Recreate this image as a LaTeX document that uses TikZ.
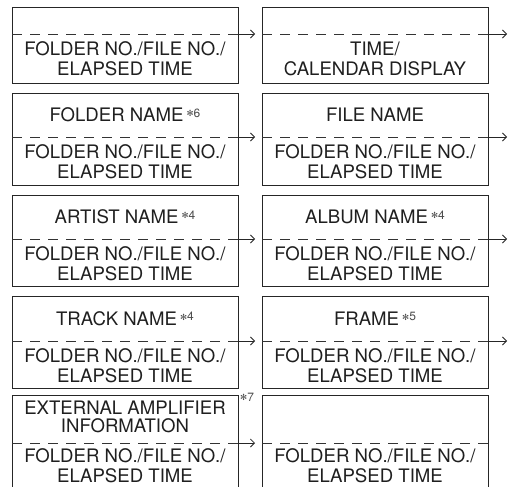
\documentclass[tikz,border=0pt]{standalone}
\usepackage{fontspec}
\setmainfont{TeX Gyre Heros}
\newfontfamily\starfont{DejaVu Sans}
\usetikzlibrary{arrows.meta}
\newcommand\notemark[1]{{\color{black!70}\raisebox{5.2pt}{\starfont\fontsize{8.5}{8.5}\selectfont ✻}\raisebox{4.6pt}{\fontsize{12}{12}\selectfont #1}}}
\newcommand\noteref[1]{\,\notemark{#1}}
\begin{document}
\begin{tikzpicture}[x=1pt,y=-1pt,
  panel/.style={draw=black!85, line width=0.9pt, minimum width=226pt, inner sep=0pt, anchor=north west},
  sepline/.style={draw=black!80, line width=0.8pt, dash pattern=on 10pt off 8pt},
  lbl/.style={font=\fontsize{18.6}{20}\selectfont, text=black!88, align=center, inner sep=0pt},
  lbltight/.style={lbl, font=\fontsize{18.6}{18}\selectfont},
  nextarrow/.style={draw=black!85, line width=0.8pt, -{Straight Barb[length=4pt,width=8pt]}}
]
\clip (0,0) rectangle (512,487);
\fill[white] (0,0) rectangle (512,487);

% ---------- row 1 ----------
\node[panel, minimum height=76pt] (L1) at (12,7) {};
\node[panel, minimum height=76pt] (R1) at (262,7) {};
\coordinate (d1) at (0,34);
\draw[sepline] (L1.west |- d1) -- (L1.east |- d1);
\draw[sepline] (R1.west |- d1) -- (R1.east |- d1);
\node[lbl] (L1low) at (125,59) {FOLDER NO./FILE NO./\\ELAPSED TIME};
\node[lbl] (R1low) at (375,59) {TIME/\\CALENDAR DISPLAY};
\coordinate (L1end) at (255,34);
\coordinate (R1end) at (507,34);
\draw[nextarrow] (L1.east |- d1) -- (L1end);
\draw[nextarrow] (R1.east |- d1) -- (R1end);

% ---------- row 2 ----------
\node[panel, minimum height=92pt] (L2) at (12,93) {};
\node[panel, minimum height=92pt] (R2) at (262,93) {};
\coordinate (d2) at (0,137);
\draw[sepline] (L2.west |- d2) -- (L2.east |- d2);
\draw[sepline] (R2.west |- d2) -- (R2.east |- d2);
\node[lbl] (L2up) at (125,115) {FOLDER NAME\noteref{6}};
\node[lbl] (R2up) at (375,115) {FILE NAME};
\node[lbl] (L2low) at (125,162) {FOLDER NO./FILE NO./\\ELAPSED TIME};
\node[lbl] (R2low) at (375,162) {FOLDER NO./FILE NO./\\ELAPSED TIME};
\coordinate (L2end) at (255,137);
\coordinate (R2end) at (507,137);
\draw[nextarrow] (L2.east |- d2) -- (L2end);
\draw[nextarrow] (R2.east |- d2) -- (R2end);

% ---------- row 3 ----------
\node[panel, minimum height=91pt] (L3) at (12,195) {};
\node[panel, minimum height=91pt] (R3) at (262,195) {};
\coordinate (d3) at (0,239);
\draw[sepline] (L3.west |- d3) -- (L3.east |- d3);
\draw[sepline] (R3.west |- d3) -- (R3.east |- d3);
\node[lbl] (L3up) at (125,217) {ARTIST NAME\noteref{4}};
\node[lbl] (R3up) at (375,217) {ALBUM NAME\noteref{4}};
\node[lbl] (L3low) at (125,263.5) {FOLDER NO./FILE NO./\\ELAPSED TIME};
\node[lbl] (R3low) at (375,263.5) {FOLDER NO./FILE NO./\\ELAPSED TIME};
\coordinate (L3end) at (255,239);
\coordinate (R3end) at (507,239);
\draw[nextarrow] (L3.east |- d3) -- (L3end);
\draw[nextarrow] (R3.east |- d3) -- (R3end);

% ---------- row 4 ----------
\node[panel, minimum height=92pt] (L4) at (12,296) {};
\node[panel, minimum height=92pt] (R4) at (262,296) {};
\coordinate (d4) at (0,341);
\draw[sepline] (L4.west |- d4) -- (L4.east |- d4);
\draw[sepline] (R4.west |- d4) -- (R4.east |- d4);
\node[lbl] (L4up) at (125,318.5) {TRACK NAME\noteref{4}};
\node[lbl] (R4up) at (375,318.5) {FRAME\noteref{5}};
\node[lbl] (L4low) at (125,365.5) {FOLDER NO./FILE NO./\\ELAPSED TIME};
\node[lbl] (R4low) at (375,365.5) {FOLDER NO./FILE NO./\\ELAPSED TIME};
\coordinate (L4end) at (255,341);
\coordinate (R4end) at (507,341);
\draw[nextarrow] (L4.east |- d4) -- (L4end);
\draw[nextarrow] (R4.east |- d4) -- (R4end);

% ---------- row 5 ----------
\node[panel, minimum height=97pt] (L5) at (12,395) {};
\node[panel, minimum height=97pt] (R5) at (262,395) {};
\coordinate (d5) at (0,443);
\draw[sepline] (L5.west |- d5) -- (L5.east |- d5);
\draw[sepline] (R5.west |- d5) -- (R5.east |- d5);
\node[lbltight] (L5up) at (125,417) {EXTERNAL AMPLIFIER\\INFORMATION};
\node[anchor=north west, inner sep=0pt] (n7) at (240,393) {\notemark{7}};
\node[lbl] (L5low) at (125,465.5) {FOLDER NO./FILE NO./\\ELAPSED TIME};
\node[lbl] (R5low) at (375,465.5) {FOLDER NO./FILE NO./\\ELAPSED TIME};
\coordinate (L5end) at (255,443);
\draw[nextarrow] (L5.east |- d5) -- (L5end);
\end{tikzpicture}
\end{document}
